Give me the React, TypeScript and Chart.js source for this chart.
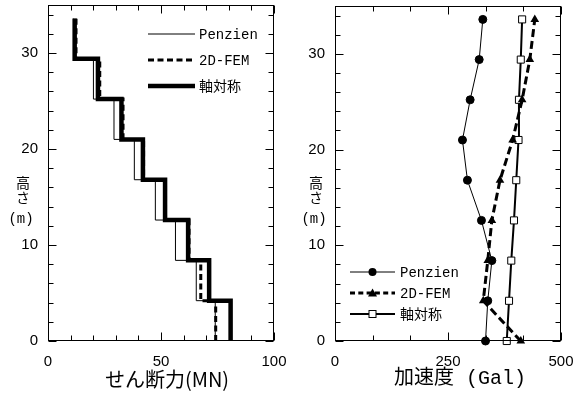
import React, { useEffect, useRef } from 'react';
import { Chart, registerables } from 'chart.js';

Chart.register(...registerables);

// ---- data ----
const HEIGHTS = [0, 4.2, 8.4, 12.6, 16.8, 21.0, 25.2, 29.4, 33.6];
// story shear (MN), story i spans HEIGHTS[i]..HEIGHTS[i+1]
const SHEAR_PENZIEN = [74, 65.6, 56.4, 47.5, 38.2, 29.2, 20.1, 11.4];
const SHEAR_FEM = [74.2, 67.6, 62.4, 52.0, 42.3, 33.2, 22.9, 12.4];
const SHEAR_AXI = [80.8, 71.3, 62.0, 51.8, 42.0, 32.5, 22.1, 11.8];
// floor acceleration (Gal) at HEIGHTS
const ACC_PENZIEN = [333, 338, 347, 324, 293, 282, 299, 319, 327];
const ACC_FEM = [411, 328, 338, 347, 365, 393, 414, 431, 442];
const ACC_AXI = [380, 385, 390, 396, 401, 406, 407, 411, 414];

const Y_TICKS = [0, 10, 20, 30];
const Y_MINOR = [2, 4, 6, 8, 12, 14, 16, 18, 22, 24, 26, 28, 32, 34];
const SHEAR_TICKS = [0, 50, 100];
const SHEAR_MINOR = [10, 20, 30, 40, 60, 70, 80, 90];
const ACC_TICKS = [0, 250, 500];
const ACC_MINOR = [83.33, 166.67, 333.33, 416.67];

const SERIES = ['Penzien', '2D-FEM', '軸対称'];

const MONO = '"Liberation Mono", "Noto Sans CJK JP", monospace';
const SANS = '"Liberation Sans", Arial, sans-serif';
const CJK = '"Noto Sans CJK JP", sans-serif';

function stepPoints(vals: number[]) {
  const pts: { x: number; y: number }[] = [];
  vals.forEach((v, i) => {
    pts.push({ x: v, y: HEIGHTS[i] });
    pts.push({ x: v, y: HEIGHTS[i + 1] });
  });
  return pts;
}

function floorPoints(vals: number[]) {
  return vals.map((v, i) => ({ x: v, y: HEIGHTS[i] }));
}

function drawMarker(ctx: CanvasRenderingContext2D, kind: string, x: number, y: number) {
  ctx.save();
  ctx.setLineDash([]);
  ctx.lineWidth = 1;
  ctx.strokeStyle = '#000';
  if (kind === 'circle') {
    ctx.fillStyle = '#000';
    ctx.beginPath();
    ctx.arc(x, y, 4, 0, Math.PI * 2);
    ctx.fill();
  } else if (kind === 'triangle') {
    ctx.fillStyle = '#000';
    ctx.beginPath();
    ctx.moveTo(x, y - 4.5);
    ctx.lineTo(x + 4.5, y + 3.5);
    ctx.lineTo(x - 4.5, y + 3.5);
    ctx.closePath();
    ctx.fill();
  } else if (kind === 'rect') {
    ctx.fillStyle = '#fff';
    ctx.fillRect(x - 3.5, y - 3.5, 7, 7);
    ctx.strokeRect(x - 3.5, y - 3.5, 7, 7);
  }
  ctx.restore();
}

const framePlugin = {
  id: 'frame',
  afterDraw(chart: any, _args: any, o: any) {
    const { ctx, chartArea: a, scales } = chart;
    const xs = scales.x;
    const ys = scales.y;
    ctx.save();
    ctx.setLineDash([]);
    ctx.strokeStyle = '#000';
    ctx.lineWidth = 1;
    const L = Math.round(a.left) + 0.5;
    const R = Math.round(a.right) - 0.5;
    const T = Math.round(a.top) + 0.5;
    const B = Math.round(a.bottom) - 0.5;
    ctx.strokeRect(L, T, R - L, B - T);
    ctx.beginPath();
    const xt = (v: number, len: number) => {
      const p = Math.round(xs.getPixelForValue(v)) + 0.5;
      ctx.moveTo(p, B); ctx.lineTo(p, B - len);
      ctx.moveTo(p, T); ctx.lineTo(p, T + len);
    };
    const yt = (v: number, len: number) => {
      const p = Math.round(ys.getPixelForValue(v)) + 0.5;
      ctx.moveTo(L, p); ctx.lineTo(L + len, p);
      ctx.moveTo(R, p); ctx.lineTo(R - len, p);
    };
    o.xMajor.forEach((v: number) => xt(v, 8));
    o.xMinor.forEach((v: number) => xt(v, 5));
    o.yMajor.forEach((v: number) => yt(v, 8));
    o.yMinor.forEach((v: number) => yt(v, 5));
    ctx.stroke();

    // axis title
    ctx.fillStyle = '#000';
    ctx.textAlign = 'center';
    ctx.textBaseline = 'middle';
    ctx.font = o.titleFont;
    ctx.fillText(o.title, o.titleX, o.titleY);

    // y label 高さ(m)
    ctx.font = '14px ' + CJK;
    ctx.fillText('高', o.yLabelX, 183);
    ctx.fillText('さ', o.yLabelX, 198);
    ctx.font = '14px ' + MONO;
    ctx.fillText('(m)', o.yLabelX - 2, 219);

    // legend
    const lg = o.legend;
    ctx.font = '14px ' + MONO;
    ctx.textAlign = 'left';
    lg.items.forEach((it: any, i: number) => {
      const y = lg.rows[i];
      ctx.save();
      ctx.lineWidth = it.width;
      ctx.setLineDash(it.dash);
      ctx.lineCap = 'butt';
      ctx.beginPath();
      ctx.moveTo(lg.x0, y);
      ctx.lineTo(lg.x1, y);
      ctx.stroke();
      ctx.restore();
      if (it.marker) drawMarker(ctx, it.marker, (lg.x0 + lg.x1) / 2, y);
      ctx.fillStyle = '#000';
      ctx.fillText(it.label, lg.tx, y + 1);
    });
    ctx.restore();
  },
};

function axes(xMin: number, xMax: number, xTicks: number[], yWidth: number) {
  return {
    x: {
      type: 'linear',
      min: xMin,
      max: xMax,
      afterBuildTicks: (s: any) => { s.ticks = xTicks.map((v) => ({ value: v })); },
      afterFit: (s: any) => {
        s.height = 53;
        s.paddingLeft = 0; s.paddingRight = 0; s.paddingTop = 0; s.paddingBottom = 0;
      },
      grid: { display: false, drawTicks: false },
      border: { display: false },
      ticks: { color: '#000', font: { family: SANS, size: 15 }, padding: 12, maxRotation: 0, autoSkip: false },
    },
    y: {
      type: 'linear',
      min: 0,
      max: 35,
      afterBuildTicks: (s: any) => { s.ticks = Y_TICKS.map((v) => ({ value: v })); },
      afterFit: (s: any) => {
        s.width = yWidth;
        s.paddingLeft = 0; s.paddingRight = 0; s.paddingTop = 0; s.paddingBottom = 0;
      },
      grid: { display: false, drawTicks: false },
      border: { display: false },
      ticks: { color: '#000', font: { family: SANS, size: 15 }, padding: 10, autoSkip: false },
    },
  };
}

function shearConfig(): any {
  return {
    type: 'scatter',
    data: {
      datasets: [
        { label: SERIES[0], data: stepPoints(SHEAR_PENZIEN), showLine: true, borderColor: '#000', borderWidth: 1, pointRadius: 0 },
        { label: SERIES[1], data: stepPoints(SHEAR_FEM), showLine: true, borderColor: '#000', borderWidth: 3, borderDash: [6, 3.5], pointRadius: 0 },
        { label: SERIES[2], data: stepPoints(SHEAR_AXI), showLine: true, borderColor: '#000', borderWidth: 4.5, pointRadius: 0 },
      ],
    },
    options: {
      responsive: false,
      animation: false,
      devicePixelRatio: 1,
      layout: { padding: { top: 5, right: 17, left: 0, bottom: 0 } },
      scales: axes(0, 100, SHEAR_TICKS, 48),
      plugins: {
        legend: { display: false },
        tooltip: { enabled: false },
        frame: {
          xMajor: SHEAR_TICKS, xMinor: SHEAR_MINOR, yMajor: Y_TICKS, yMinor: Y_MINOR,
          title: 'せん断力(MN)', titleFont: '20px ' + CJK, titleX: 167, titleY: 379,
          yLabelX: 23,
          legend: {
            x0: 148, x1: 195, tx: 199, rows: [34, 60, 86],
            items: [
              { label: SERIES[0], width: 1, dash: [] },
              { label: SERIES[1], width: 3, dash: [6, 3.5] },
              { label: SERIES[2], width: 4.5, dash: [] },
            ],
          },
        },
      },
    },
    plugins: [framePlugin],
  };
}

function accConfig(): any {
  return {
    type: 'scatter',
    data: {
      datasets: [
        { label: SERIES[0], data: floorPoints(ACC_PENZIEN), showLine: true, borderColor: '#000', borderWidth: 1, pointStyle: 'circle', pointRadius: 4, pointBackgroundColor: '#000', pointBorderColor: '#000', clip: false },
        { label: SERIES[1], data: floorPoints(ACC_FEM), showLine: true, borderColor: '#000', borderWidth: 3, borderDash: [8, 4], pointStyle: 'triangle', pointRadius: 5, pointBackgroundColor: '#000', pointBorderColor: '#000', pointBorderWidth: 0, clip: false },
        { label: SERIES[2], data: floorPoints(ACC_AXI), showLine: true, borderColor: '#000', borderWidth: 2, pointStyle: 'rect', pointRadius: 5, pointBackgroundColor: '#fff', pointBorderColor: '#000', pointBorderWidth: 1, clip: false },
      ],
    },
    options: {
      responsive: false,
      animation: false,
      devicePixelRatio: 1,
      layout: { padding: { top: 5, right: 21, left: 0, bottom: 0 } },
      scales: axes(0, 500, ACC_TICKS, 44),
      plugins: {
        legend: { display: false },
        tooltip: { enabled: false },
        frame: {
          xMajor: ACC_TICKS, xMinor: ACC_MINOR, yMajor: Y_TICKS, yMinor: Y_MINOR,
          title: '加速度 (Gal)', titleFont: '20px ' + MONO, titleX: 169, titleY: 379,
          yLabelX: 25,
          legend: {
            x0: 59, x1: 104, tx: 109, rows: [272, 293, 314],
            items: [
              { label: SERIES[0], width: 1, dash: [], marker: 'circle' },
              { label: SERIES[1], width: 3, dash: [5, 3.3], marker: 'triangle' },
              { label: SERIES[2], width: 2, dash: [], marker: 'rect' },
            ],
          },
        },
      },
    },
    plugins: [framePlugin],
  };
}

function Panel({ make, left }: { make: () => any; left: number }) {
  const ref = useRef<HTMLCanvasElement>(null);
  useEffect(() => {
    if (!ref.current) return;
    const c = new Chart(ref.current, make());
    return () => c.destroy();
  }, [make]);
  return (
    <canvas
      ref={ref}
      width={291}
      height={394}
      style={{ position: 'absolute', left, top: 0, width: 291, height: 394 }}
    />
  );
}

export default function App() {
  useEffect(() => {
    document.body.style.margin = '0';
    document.body.style.background = '#fff';
  }, []);
  return (
    <div style={{ position: 'relative', width: 582, height: 394, background: '#fff', overflow: 'hidden' }}>
      <Panel make={shearConfig} left={0} />
      <Panel make={accConfig} left={291} />
    </div>
  );
}
